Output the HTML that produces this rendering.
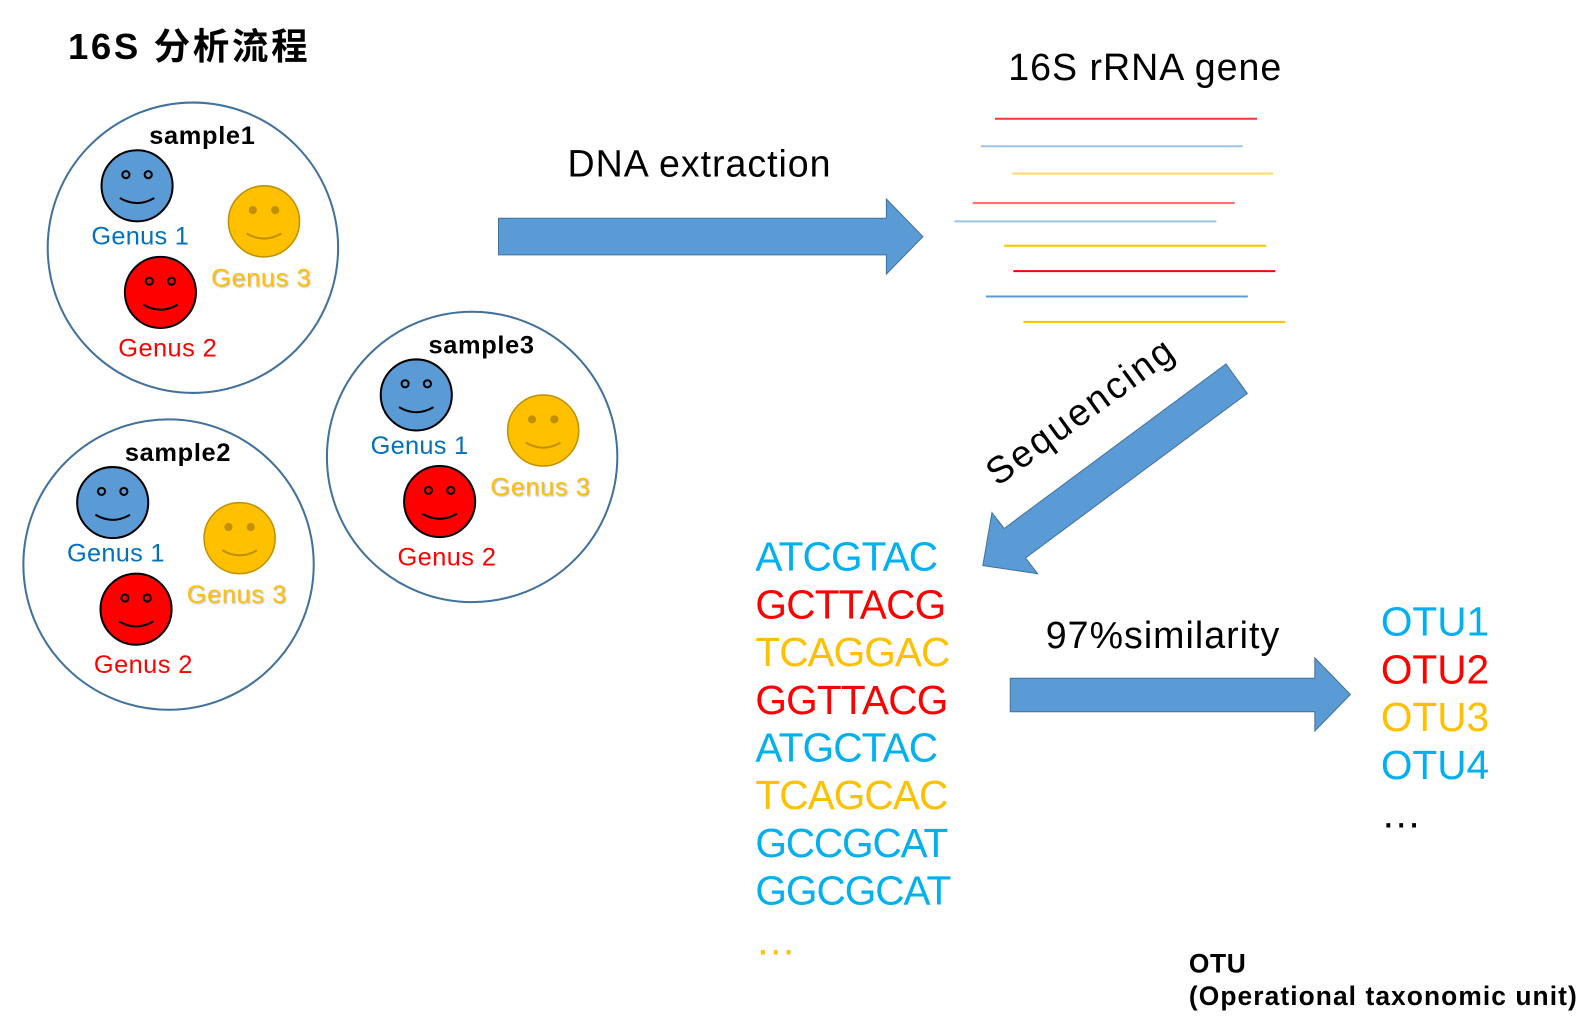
<!DOCTYPE html>
<html><head><meta charset="utf-8"><style>html,body{margin:0;padding:0;background:#fff}svg{display:block}</style></head>
<body>
<svg width="1591" height="1027" viewBox="0 0 1567 1011.5" preserveAspectRatio="none" xmlns="http://www.w3.org/2000/svg" font-family="Liberation Sans, Noto Sans CJK SC, sans-serif">
<defs>
<filter id="sh"><feDropShadow dx="1" dy="1" stdDeviation="0.8" flood-color="#888" flood-opacity="0.6"/></filter>
<g id="sm">
  <g transform="translate(-55,-61)">
    <circle r="35" fill="#5b9bd5" stroke="#000" stroke-width="2"/>
    <circle cx="-11" cy="-11" r="3.5" fill="none" stroke="#000" stroke-width="2"/>
    <circle cx="11" cy="-11" r="3.5" fill="none" stroke="#000" stroke-width="2"/>
    <path d="M-17,12 Q0,22 17,12" fill="none" stroke="#000" stroke-width="2"/>
  </g>
  <g transform="translate(70,-26)">
    <circle r="35" fill="#ffc000" stroke="#bf9000" stroke-width="1.5"/>
    <circle cx="-11" cy="-11" r="4" fill="#bf9000"/>
    <circle cx="11" cy="-11" r="4" fill="#bf9000"/>
    <path d="M-17,12 Q0,22 17,12" fill="none" stroke="#bf9000" stroke-width="2"/>
  </g>
  <g transform="translate(-32,44)">
    <circle r="35" fill="#ff0000" stroke="#000" stroke-width="2"/>
    <circle cx="-11" cy="-11" r="3.5" fill="none" stroke="#000" stroke-width="2"/>
    <circle cx="11" cy="-11" r="3.5" fill="none" stroke="#000" stroke-width="2"/>
    <path d="M-17,12 Q0,22 17,12" fill="none" stroke="#000" stroke-width="2"/>
  </g>
  <g font-size="25" text-anchor="middle">
    <text x="-52" y="-3" fill="#0070c0" textLength="96">Genus 1</text>
    <text x="67" y="38" fill="#ffc000" filter="url(#sh)" textLength="98">Genus 3</text>
    <text x="-25" y="107" fill="#ff0000" textLength="97">Genus 2</text>
  </g>
</g>
</defs>
<text x="67" y="58" font-size="36" font-weight="bold" textLength="236">16S 分析流程</text>

<circle cx="190" cy="244" r="143" fill="none" stroke="#41719c" stroke-width="2"/>
<text x="199" y="142" font-size="25" font-weight="bold" text-anchor="middle" textLength="104">sample1</text>
<use href="#sm" transform="translate(190,244)"/>

<circle cx="166" cy="556" r="143" fill="none" stroke="#41719c" stroke-width="2"/>
<text x="175" y="454" font-size="25" font-weight="bold" text-anchor="middle" textLength="104">sample2</text>
<use href="#sm" transform="translate(166,556)"/>

<circle cx="465" cy="450" r="143" fill="none" stroke="#41719c" stroke-width="2"/>
<text x="474" y="348" font-size="25" font-weight="bold" text-anchor="middle" textLength="104">sample3</text>
<use href="#sm" transform="translate(465,450)"/>

<text x="559" y="174" font-size="37" textLength="259">DNA extraction</text>
<polygon points="491,215 873,215 873,196 909,233 873,270 873,251 491,251" fill="#5b9bd5" stroke="#41719c" stroke-width="1"/>

<text x="993" y="79" font-size="37" textLength="269">16S rRNA gene</text>
<g stroke-width="2">
<line x1="980" y1="117" x2="1238" y2="117" stroke="#ff3030"/>
<line x1="966" y1="144" x2="1224" y2="144" stroke="#9dc3e6"/>
<line x1="997" y1="171" x2="1254" y2="171" stroke="#ffd966"/>
<line x1="958" y1="200" x2="1216" y2="200" stroke="#ff7070"/>
<line x1="940" y1="218" x2="1198" y2="218" stroke="#9dc3e6"/>
<line x1="989" y1="242" x2="1247" y2="242" stroke="#ffc000"/>
<line x1="998" y1="267" x2="1256" y2="267" stroke="#ff0000"/>
<line x1="971" y1="292" x2="1229" y2="292" stroke="#5b9bd5"/>
<line x1="1008" y1="317" x2="1266" y2="317" stroke="#ffc000"/>
</g>

<polygon points="1207.5,358.5 1228.5,387.5 1010,549.5 1022,565 968,557 977,505 989,520.5" fill="#5b9bd5" stroke="#41719c" stroke-width="1"/>
<text x="1063" y="418" font-size="37" text-anchor="middle" textLength="218" transform="rotate(-36 1063 405)">Sequencing</text>

<g font-size="40">
<text x="744" y="562" fill="#00b0f0" textLength="180">ATCGTAC</text>
<text x="744" y="609" fill="#ff0000" textLength="188">GCTTACG</text>
<text x="744" y="656" fill="#ffc000" textLength="192">TCAGGAC</text>
<text x="744" y="703" fill="#ff0000" textLength="190">GGTTACG</text>
<text x="744" y="750" fill="#00b0f0" textLength="180">ATGCTAC</text>
<text x="744" y="797" fill="#ffc000" textLength="190">TCAGCAC</text>
<text x="744" y="844" fill="#00b0f0" textLength="190">GCCGCAT</text>
<text x="744" y="891" fill="#00b0f0" textLength="193">GGCGCAT</text>
<text x="744" y="940" fill="#ffc000">…</text>
</g>

<text x="1030" y="638" font-size="37" textLength="230">97%similarity</text>
<polygon points="995,668 1295,668 1295,648 1330,684 1295,720 1295,701 995,701" fill="#5b9bd5" stroke="#41719c" stroke-width="1"/>

<g font-size="40">
<text x="1360" y="626" fill="#00b0f0">OTU1</text>
<text x="1360" y="673" fill="#ff0000">OTU2</text>
<text x="1360" y="720" fill="#ffc000">OTU3</text>
<text x="1360" y="767" fill="#00b0f0">OTU4</text>
<text x="1360" y="815" fill="#000">…</text>
</g>

<text x="1171" y="958" font-size="26" font-weight="bold" textLength="56">OTU</text>
<text x="1171" y="990" font-size="26" font-weight="bold" textLength="382">(Operational taxonomic unit)</text>
</svg>
</body></html>
